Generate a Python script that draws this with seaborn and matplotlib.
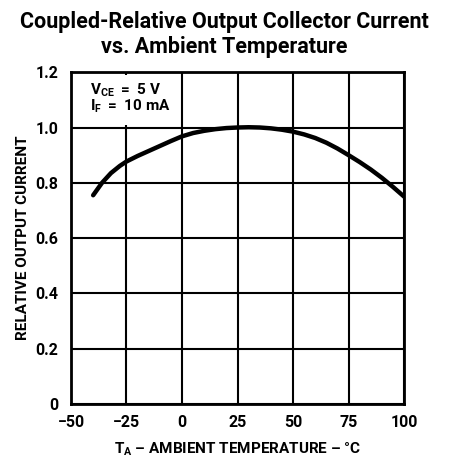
import matplotlib
matplotlib.use("Agg")
import matplotlib.pyplot as plt
from matplotlib.patches import Rectangle
import seaborn as sns

# temperature (degC) vs relative output current
temps = [-40, -36, -32, -28, -25, -20, -15, -10, -5, 0, 5, 10, 15, 20, 25, 30, 35, 40, 45,
         50, 55, 60, 65, 70, 75, 80, 85, 90, 95, 100]
rel_current = [0.755, 0.80, 0.835, 0.861, 0.877, 0.897, 0.915, 0.933, 0.951, 0.968, 0.98, 0.988,
               0.994, 0.998, 1.0, 1.001, 1.0, 0.997, 0.992, 0.985, 0.975, 0.962, 0.945, 0.924,
               0.90, 0.875, 0.848, 0.818, 0.785, 0.75]

x_ticks = [-50, -25, 0, 25, 50, 75, 100]
y_ticks = [0, 0.2, 0.4, 0.6, 0.8, 1.0, 1.2]
y_labels = ["0", "0.2", "0.4", "0.6", "0.8", "1.0", "1.2"]

sns.set_style("white")
FONT = "Roboto"
plt.rcParams["font.family"] = [FONT, "DejaVu Sans"]
plt.rcParams["font.weight"] = "bold"
plt.rcParams["text.color"] = "black"
plt.rcParams["axes.labelcolor"] = "black"
plt.rcParams["xtick.color"] = "black"
plt.rcParams["ytick.color"] = "black"
plt.rcParams["mathtext.fontset"] = "custom"
plt.rcParams["mathtext.rm"] = FONT + ":bold"
plt.rcParams["mathtext.bf"] = FONT + ":bold"
plt.rcParams["mathtext.it"] = FONT + ":bold"

fig = plt.figure(figsize=(4.49, 4.57), dpi=100)
ax = fig.add_axes([0.158, 0.116, 0.742, 0.726])

ax.set_xlim(-50, 100)
ax.set_ylim(0, 1.2)
ax.set_xticks(x_ticks)
ax.set_yticks(y_ticks)
ax.set_yticklabels(y_labels)
ax.grid(True, color="black", linewidth=1.5)
ax.set_axisbelow(True)
ax.tick_params(length=0, labelsize=11.5)
ax.tick_params(axis="x", pad=8)
ax.tick_params(axis="y", pad=9)
for lab in ax.get_xticklabels() + ax.get_yticklabels():
    lab.set_fontweight("bold")
for s in ax.spines.values():
    s.set_color("black")
    s.set_linewidth(2)

# white condition box in the top-left cell block (hides most of the -25 gridline)
ax.add_patch(Rectangle((-49, 1.008), 48, 0.182, facecolor="white", edgecolor="none", zorder=1.5))
ax.text(-41.5, 1.136, r"$\mathrm{V_{CE}\ =\ 5\ V}$", fontsize=11, va="center", zorder=3)
ax.text(-41.5, 1.075, r"$\mathrm{I_{F}\ =\ 10\ mA}$", fontsize=11, va="center", zorder=3)

sns.lineplot(x=temps, y=rel_current, ax=ax, color="black", linewidth=3.2, zorder=4)

ax.set_xlabel(r"$\mathrm{T_A}$ – AMBIENT TEMPERATURE – °C", fontsize=11, fontweight="bold")
ax.xaxis.set_label_coords(0.5, -0.136)
ax.xaxis.label.set_va("center")
ax.set_ylabel("RELATIVE OUTPUT CURRENT", fontsize=11, fontweight="bold")
ax.yaxis.set_label_coords(-0.144, 0.5)
ax.yaxis.label.set_va("center")

fig.text(0.5, 0.952, "Coupled-Relative Output Collector Current", ha="center", va="center",
         fontsize=15.5, fontweight="bold")
fig.text(0.5, 0.897, "vs. Ambient Temperature", ha="center", va="center",
         fontsize=15.5, fontweight="bold")

fig.savefig("out.png", dpi=100)
